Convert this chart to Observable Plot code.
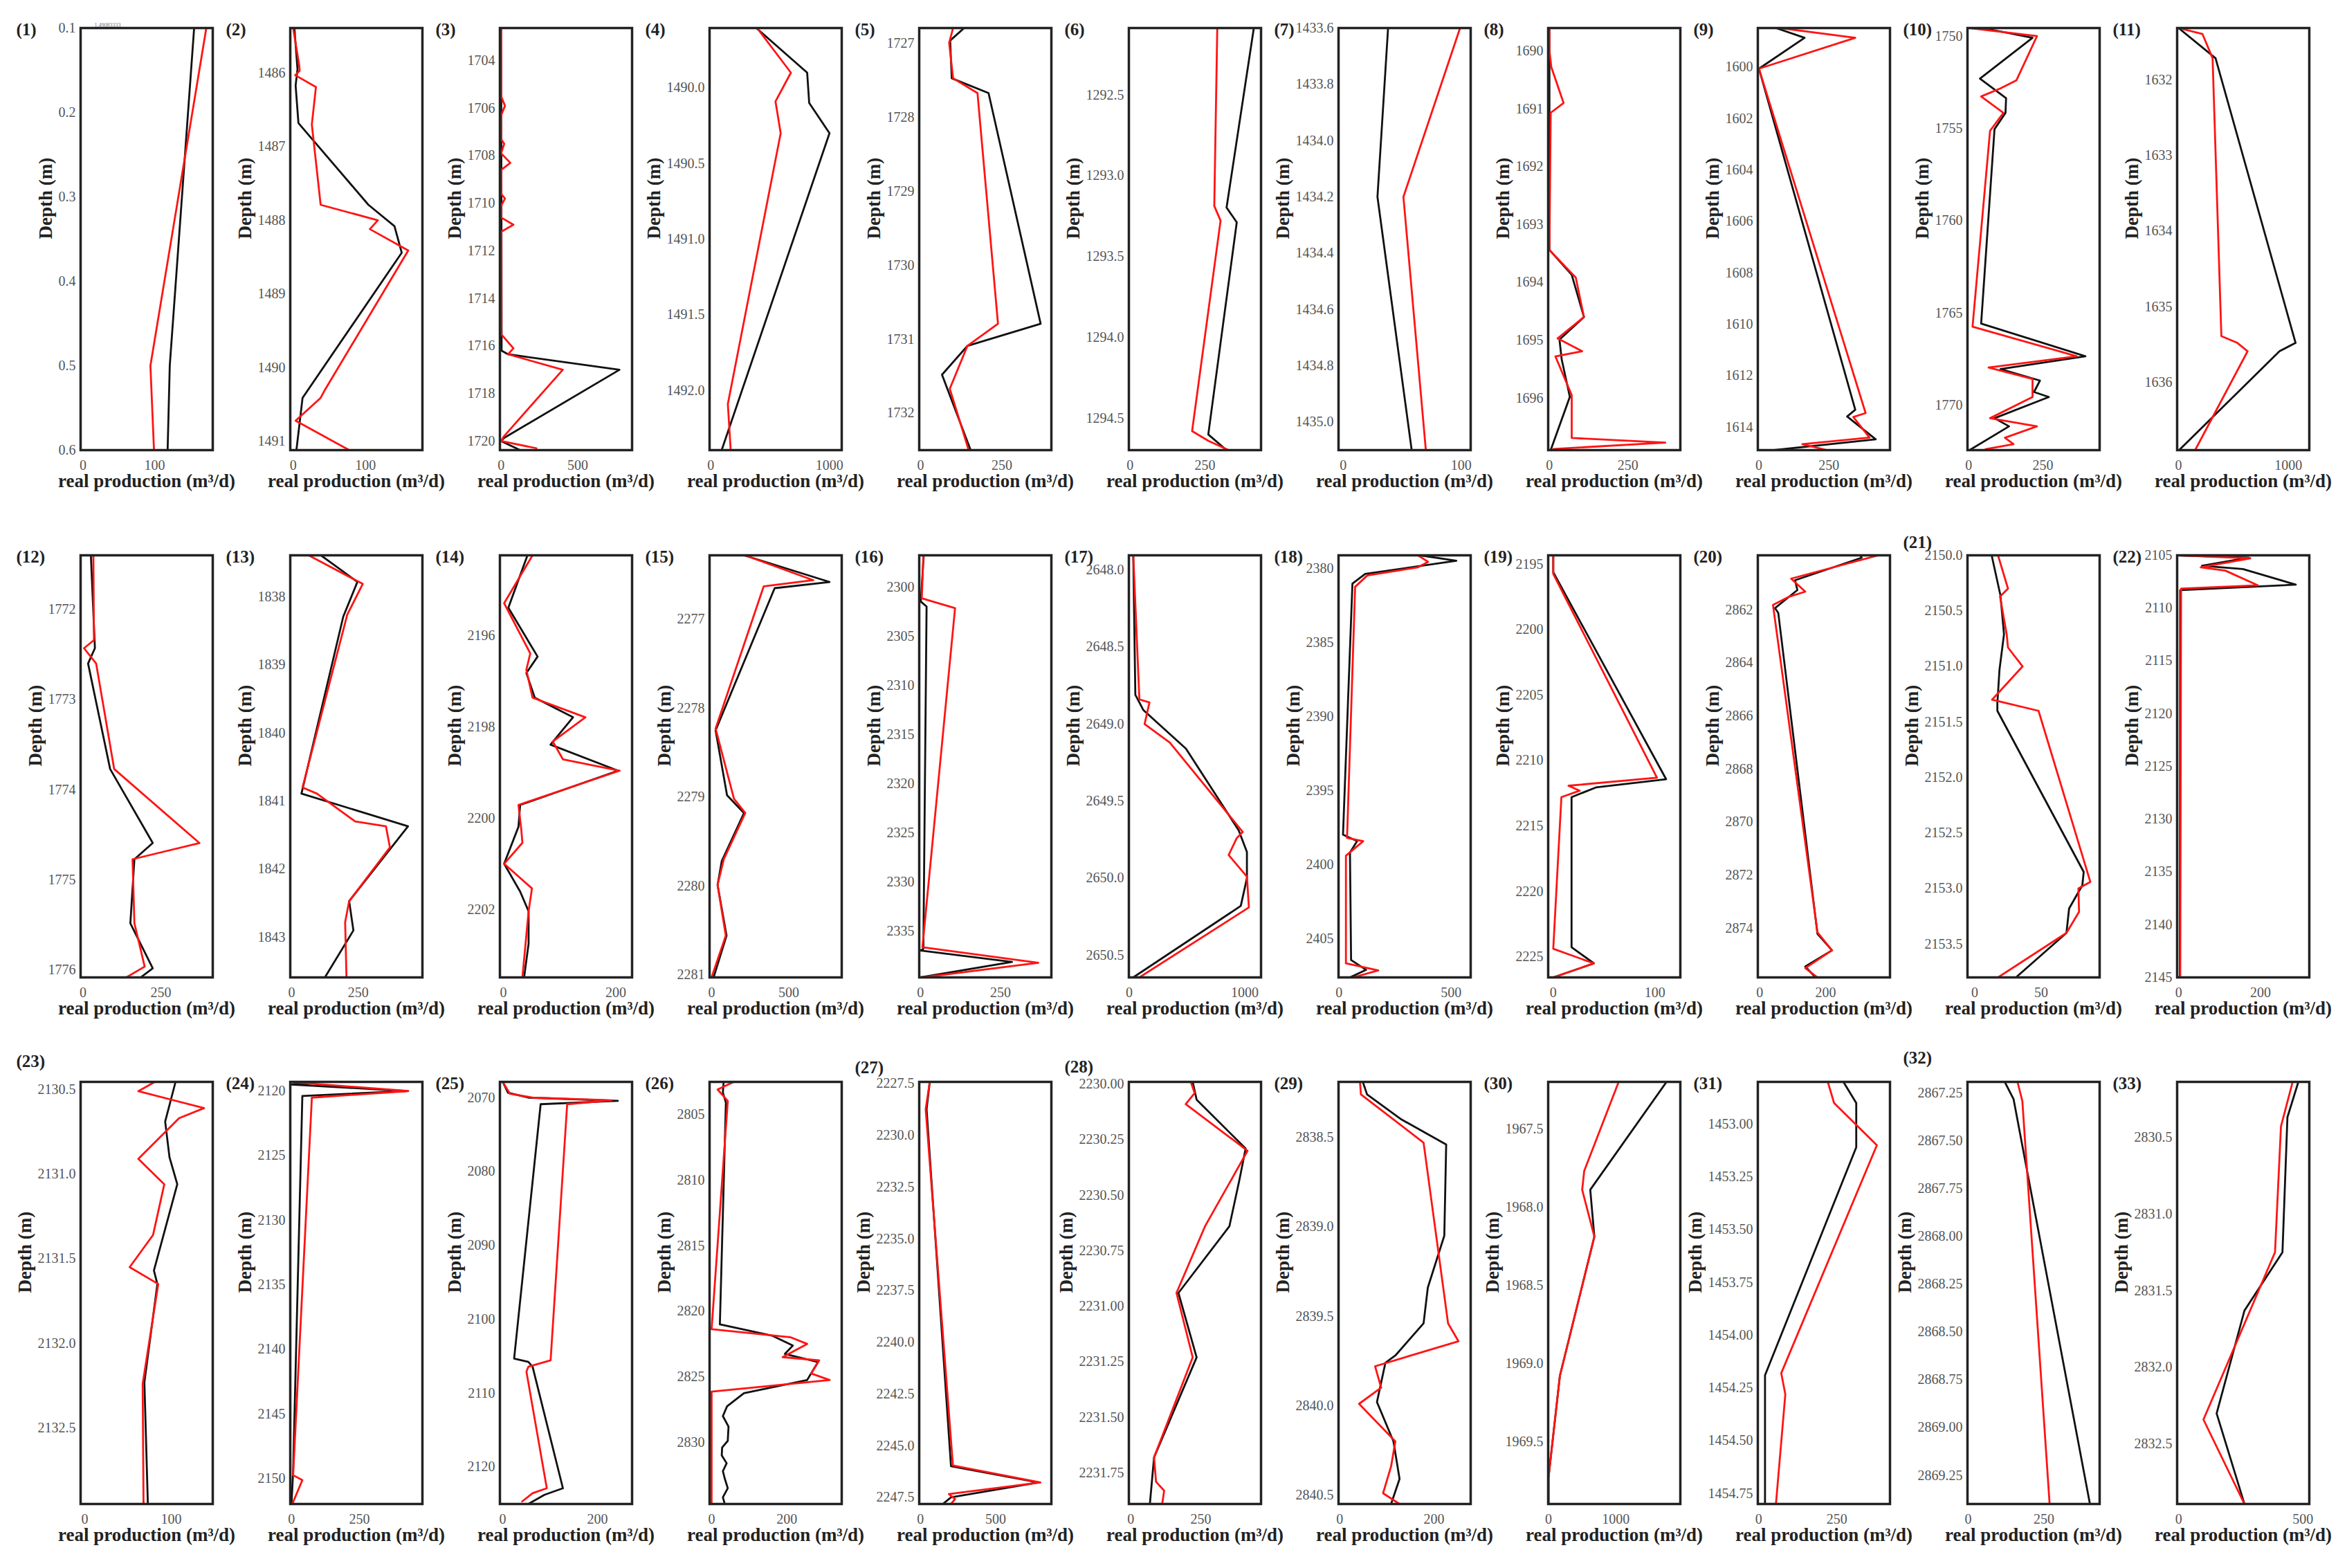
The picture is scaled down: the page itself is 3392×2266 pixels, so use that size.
<!DOCTYPE html>
<html><head><meta charset="utf-8">
<script src="https://cdn.jsdelivr.net/npm/d3@7"></script>
<script src="https://cdn.jsdelivr.net/npm/@observablehq/plot@0.6"></script>
<style>
html,body{margin:0;padding:0;background:#fff;}
#root{position:relative;width:3392px;height:2266px;background:#fff;overflow:hidden;}
#root svg{position:absolute;overflow:visible;}
</style></head><body><div id="root"></div>
<script>
// ---- data: [depth (m), real production (m3/d)] ----
const black1=[[0.1,155],[0.5,121],[0.6,118]];
const red1=[[0.1,172],[0.5,94],[0.6,99]];
const black2=[[1485.39,1.7],[1485.95,6],[1486.17,3.4],[1486.68,7.3],[1487.79,104],[1488.08,140],[1488.44,150],[1490.41,13],[1491.12,4.5]];
const red2=[[1485.39,0],[1485.90,8.4],[1485.97,9],[1486.03,2.8],[1486.19,31.5],[1486.70,25.8],[1487.79,38],[1488.0,117],[1488.12,106],[1488.41,159],[1490.30,44],[1490.41,38],[1490.72,3.4],[1491.12,77.5]];
const black3=[[1702.63,0],[1716.2,3],[1716.35,45],[1717.0,772],[1719.87,18],[1720.0,0],[1720.38,124]];
const red3=[[1702.63,0],[1705.5,0],[1705.9,25],[1706.3,0],[1707.3,0],[1707.5,20],[1707.9,0],[1708.3,60],[1708.6,0],[1709.6,0],[1709.8,25],[1710.1,0],[1710.6,0],[1710.9,80],[1711.2,0],[1715.5,0],[1715.8,40],[1716.1,80],[1716.35,45],[1717.0,402],[1719.8,18],[1720.0,0],[1720.3,230]];
const black4=[[1489.605,384],[1489.90,812],[1490.10,829],[1490.30,1000],[1492.395,92]];
const red4=[[1489.605,390],[1489.90,675],[1490.09,545],[1490.30,589],[1492.09,144],[1492.395,168]];
const black5=[[1726.79,134],[1726.96,91],[1727.47,96],[1727.67,209],[1730.79,369],[1731.09,144],[1731.48,66],[1732.5,154]];
const red5=[[1726.79,100],[1726.99,88],[1727.47,100],[1727.67,175],[1730.79,238],[1731.09,144],[1731.67,90],[1732.5,148]];
const black6=[[1292.086,413],[1293.197,322],[1293.288,356],[1294.601,261],[1294.698,322]];
const red6=[[1292.086,291],[1293.187,281],[1293.278,302],[1294.58,207],[1294.64,261],[1294.698,329]];
const black7=[[1433.6,38],[1434.2,29],[1435.10,58]];
const red7=[[1433.6,99],[1434.2,51],[1435.10,70]];
const black8=[[1689.605,0],[1693.44,0],[1693.87,71],[1694.60,110],[1694.99,32],[1695.33,39],[1695.98,65],[1696.90,4]];
const red8=[[1689.605,0],[1690.0,0],[1690.28,6],[1690.90,45],[1691.07,4],[1693.44,0],[1693.92,84],[1694.60,110],[1694.97,26],[1695.19,104],[1695.28,19],[1695.95,71],[1696.69,71],[1696.77,369],[1696.88,13]];
const black9=[[1598.48,61],[1598.86,163],[1600.06,0],[1613.32,344],[1613.58,315],[1614.47,417],[1614.89,54]];
const red9=[[1598.48,76],[1598.86,344],[1600.06,0],[1613.45,381],[1613.6,337],[1614.4,395],[1614.66,155],[1614.89,243]];
const black10=[[1749.56,47],[1750.09,215],[1752.30,38],[1753.36,126],[1754.16,124],[1755.04,87],[1765.58,42],[1767.35,393],[1768.05,107],[1768.67,240],[1769.29,220],[1769.56,270],[1770.71,87],[1771.15,136],[1772.44,3]];
const red10=[[1749.56,3],[1750.0,230],[1752.39,161],[1752.83,107],[1753.27,42],[1754.16,117],[1755.13,72],[1765.75,13],[1767.35,364],[1767.96,67],[1768.58,215],[1769.56,215],[1770.71,72],[1771.15,230],[1771.77,122],[1772.12,151],[1772.39,57]];
const black11=[[1631.31,0],[1631.71,337],[1635.48,1066],[1635.59,920],[1636.90,5]];
const red11=[[1631.31,0],[1631.39,218],[1631.71,310],[1635.39,390],[1635.48,536],[1635.59,629],[1636.90,151]];
const black12=[[1771.40,25],[1772.43,38],[1772.60,16],[1773.77,87],[1774.59,224],[1774.77,165],[1775.48,152],[1775.98,224],[1776.08,185]];
const red12=[[1771.40,33],[1772.34,35],[1772.43,3],[1772.60,42],[1773.77,100],[1774.59,374],[1774.77,159],[1775.48,165],[1775.96,198],[1776.08,139]];
const black13=[[1837.39,110],[1837.78,247],[1838.29,194],[1840.89,37],[1841.37,437],[1842.47,216],[1842.90,232],[1843.59,125]];
const red13=[[1837.39,64],[1837.81,267],[1838.26,209],[1840.80,41],[1840.89,95],[1841.30,239],[1841.37,354],[1841.68,369],[1842.47,216],[1842.78,201],[1843.59,206]];
const black14=[[2194.24,43],[2195.39,9],[2196.46,61],[2196.82,41],[2197.36,56],[2197.79,124],[2198.39,84],[2198.96,204],[2199.71,30],[2200.19,27],[2201.0,1.5],[2201.61,30],[2202.04,45],[2202.75,45],[2203.49,37]];
const red14=[[2194.24,52],[2195.29,1.5],[2196.39,48],[2196.75,41],[2197.36,52],[2197.79,146],[2198.32,88],[2198.71,106],[2198.96,207],[2199.71,27],[2200.25,32],[2200.54,34],[2201.0,1.5],[2201.54,51],[2202.04,45],[2203.49,34]];
const black15=[[2276.28,210],[2276.58,763],[2276.65,408],[2278.25,26],[2278.98,100],[2279.18,210],[2279.72,66],[2279.99,39],[2280.56,97],[2281.03,13]];
const red15=[[2276.28,216],[2276.56,658],[2276.63,337],[2278.23,26],[2279.02,145],[2279.18,218],[2279.70,79],[2279.99,39],[2280.56,92],[2281.03,0]];
const black16=[[2296.78,10],[2301.49,1],[2301.99,19],[2336.83,9],[2337.0,0],[2338.16,286],[2339.74,0]];
const red16=[[2296.78,9],[2301.16,4],[2302.16,108],[2336.66,6],[2338.26,368],[2339.74,6]];
const black17=[[2647.905,35],[2648.81,53],[2648.91,123],[2649.16,491],[2649.69,947],[2649.83,1018],[2650.0,1018],[2650.18,965],[2650.644,35]];
const red17=[[2647.905,35],[2648.84,88],[2648.86,175],[2649.0,133],[2649.12,351],[2649.70,982],[2649.74,930],[2649.85,860],[2649.99,1018],[2650.19,1035],[2650.644,88]];
const black18=[[2379.12,361],[2379.49,523],[2380.37,117],[2381.03,60],[2397.96,18],[2398.40,81],[2399.16,49],[2406.42,54],[2407.08,121],[2407.59,49]];
const red18=[[2379.12,352],[2379.56,397],[2379.93,352],[2380.48,126],[2381.25,72],[2398.18,36],[2398.40,108],[2399.38,31],[2406.64,31],[2407.12,175],[2407.59,63]];
const black19=[[2194.33,0],[2195.62,0],[2211.43,111],[2212.06,42],[2212.80,18],[2224.26,18],[2225.50,40],[2226.57,0]];
const red19=[[2194.33,0],[2195.75,0],[2211.31,102],[2211.93,15],[2212.31,26],[2212.80,8],[2224.38,0],[2225.50,40],[2226.57,0]];
const black20=[[2859.95,305],[2860.04,309],[2860.89,107],[2861.26,114],[2861.45,95],[2861.94,46],[2862.12,56],[2874.22,175],[2874.84,219],[2875.45,138],[2875.86,169]];
const red20=[[2859.95,360],[2860.83,95],[2861.32,138],[2861.51,89],[2861.82,40],[2874.16,175],[2874.84,219],[2875.51,138],[2875.86,175]];
const black21=[[2150.0,12.7],[2150.36,19.3],[2150.71,22],[2151.03,18.6],[2151.33,17],[2151.40,17],[2152.85,82],[2152.97,81],[2153.18,71],[2153.40,69],[2153.80,31]];
const red21=[[2150.0,17.5],[2150.30,25],[2150.37,19],[2150.71,24],[2150.83,25],[2151.0,36],[2151.30,13],[2151.40,48],[2152.94,87],[2153.0,78],[2153.21,78.5],[2153.40,69],[2153.80,17.5]];
const black22=[[2105,0],[2105.22,171],[2105.99,57],[2106.30,157],[2107.78,286],[2108.30,4],[2145,3]];
const red22=[[2105,0],[2105.28,175],[2106.14,54],[2106.45,114],[2107.84,193],[2108.15,6],[2145,4]];
const black23=[[2130.455,105],[2130.69,93],[2130.90,98],[2131.06,107],[2131.57,80],[2131.65,84],[2132.23,69],[2132.95,73]];
const red23=[[2130.455,81],[2130.51,62],[2130.61,138],[2130.67,109],[2130.91,62],[2131.06,92],[2131.36,79],[2131.55,52],[2131.65,85],[2132.24,67],[2132.95,68]];
const black24=[[2119.29,0],[2119.39,78],[2119.49,0],[2120.0,422],[2120.38,40],[2149.49,6],[2151.98,0]];
const red24=[[2119.29,0],[2119.44,85],[2120.0,430],[2120.51,75],[2149.75,6],[2150.13,40],[2151.98,3]];
const black25=[[2067.87,0],[2069.33,11],[2070.0,54],[2070.44,243],[2070.89,80],[2105.33,24],[2105.78,54],[2106.44,63],[2122.89,127],[2123.78,88],[2125.02,54]];
const red25=[[2067.87,0],[2069.47,15],[2070.0,63],[2070.36,230],[2070.89,136],[2105.56,101],[2106.44,54],[2107.11,50],[2122.89,93],[2123.56,63],[2124.67,41]];
const black26=[[2802.49,32],[2803.32,30],[2804.07,38],[2821.0,22],[2821.87,162],[2822.62,216],[2823.25,195],[2823.87,283],[2825.25,254],[2826.25,86],[2827.26,41],[2828.0,30],[2828.8,45],[2829.89,43],[2830.4,28],[2831.0,27],[2831.6,40],[2832.2,30],[2832.77,35],[2833.5,43],[2834.2,30],[2834.71,35]];
const red26=[[2802.49,59],[2803.07,16],[2803.95,43],[2821.37,0],[2821.99,211],[2822.49,254],[2823.50,189],[2823.75,286],[2824.75,265],[2825.25,314],[2826.13,0],[2834.71,0]];
const black27=[[2227.42,62],[2228.74,41],[2245.99,203],[2246.78,784],[2247.50,203],[2247.82,149]];
const red27=[[2227.42,62],[2228.74,35],[2245.96,216],[2246.78,797],[2247.34,189],[2247.58,230],[2247.82,203]];
const black28=[[2229.99,221],[2230.07,235],[2230.29,410],[2230.43,388],[2230.64,352],[2230.94,170],[2231.23,235],[2231.68,83],[2231.89,68]];
const red28=[[2229.99,214],[2230.04,228],[2230.09,196],[2230.30,417],[2230.64,265],[2230.94,163],[2231.23,221],[2231.68,83],[2231.79,90],[2231.83,119],[2231.89,112]];
const black29=[[2838.19,49],[2838.26,58],[2838.40,131],[2838.54,226],[2839.05,222],[2839.34,187],[2839.54,178],[2839.72,118],[2839.76,97],[2839.98,79],[2840.20,114],[2840.41,127],[2840.55,109]];
const red29=[[2838.19,43],[2838.26,45],[2838.53,178],[2839.54,230],[2839.64,252],[2839.78,75],[2839.90,88],[2839.99,41],[2840.20,118],[2840.34,109],[2840.49,92],[2840.55,127]];
const black30=[[1967.20,1753],[1967.89,620],[1968.19,681],[1969.08,169],[1969.73,0],[1969.90,0]];
const red30=[[1967.20,1042],[1967.77,530],[1967.89,500],[1968.19,681],[1969.08,169],[1969.73,0],[1969.90,0]];
const black31=[[1452.80,271],[1452.90,312],[1453.11,312],[1454.19,20],[1454.80,20]];
const red31=[[1452.80,221],[1452.90,241],[1453.10,378],[1454.18,72],[1454.28,85],[1454.80,55]];
const black32=[[2867.19,121],[2867.28,150],[2869.40,402]];
const red32=[[2867.19,163],[2867.29,179],[2869.40,269]];
const black33=[[2830.14,482],[2830.37,438],[2831.25,418],[2831.63,265],[2832.30,153],[2832.89,265]];
const red33=[[2830.14,459],[2830.43,412],[2831.25,388],[2832.34,100],[2832.89,265]];

// ---- axes: depth domain [top, bottom], production domain, tick labels ----
const yDomains=[[0.1,0.6],[1485.39,1491.12],[1702.63,1720.38],[1489.605,1492.395],[1726.79,1732.5],[1292.086,1294.698],[1433.6,1435.10],[1689.605,1696.90],[1598.48,1614.89],[1749.56,1772.44],[1631.31,1636.90],
[1771.40,1776.08],[1837.39,1843.59],[2194.24,2203.49],[2276.28,2281.03],[2296.78,2339.74],[2647.905,2650.644],[2379.12,2407.59],[2194.33,2226.57],[2859.95,2875.86],[2150.0,2153.80],[2105,2145],
[2130.455,2132.95],[2119.29,2151.98],[2067.87,2125.02],[2802.49,2834.71],[2227.42,2247.82],[2229.99,2231.89],[2838.19,2840.55],[1967.20,1969.90],[1452.80,1454.80],[2867.19,2869.40],[2830.14,2832.89]];
const xDomains=[[-3.4,181],[-4,178.6],[-8,854],[-10,1103],[-4,402],[-4,437],[-4,108],[-4,417],[-4,468],[-4,441],[-13,1191],
[-8,417],[-5,491],[-6,229],[-13,842],[-4,409],[-3,1140],[-2,587],[-5,125],[-6,395],[-5.5,94],[-3.6,319],
[-4.7,148],[-4.5,482],[-6,273],[-5.4,346],[-8,870],[-7,465],[-2.6,278],[-5,1958],[-3,420],[-2,434],[-6,526]];
const yTicks=[[0.1,0.2,0.3,0.4,0.5,0.6],[1486,1487,1488,1489,1490,1491],[1704,1706,1708,1710,1712,1714,1716,1718,1720],[1490.0,1490.5,1491.0,1491.5,1492.0],[1727,1728,1729,1730,1731,1732],[1292.5,1293.0,1293.5,1294.0,1294.5],[1433.6,1433.8,1434.0,1434.2,1434.4,1434.6,1434.8,1435.0],[1690,1691,1692,1693,1694,1695,1696],[1600,1602,1604,1606,1608,1610,1612,1614],[1750,1755,1760,1765,1770],[1632,1633,1634,1635,1636],
[1772,1773,1774,1775,1776],[1838,1839,1840,1841,1842,1843],[2196,2198,2200,2202],[2277,2278,2279,2280,2281],[2300,2305,2310,2315,2320,2325,2330,2335],[2648.0,2648.5,2649.0,2649.5,2650.0,2650.5],[2380,2385,2390,2395,2400,2405],[2195,2200,2205,2210,2215,2220,2225],[2862,2864,2866,2868,2870,2872,2874],[2150.0,2150.5,2151.0,2151.5,2152.0,2152.5,2153.0,2153.5],[2105,2110,2115,2120,2125,2130,2135,2140,2145],
[2130.5,2131.0,2131.5,2132.0,2132.5],[2120,2125,2130,2135,2140,2145,2150],[2070,2080,2090,2100,2110,2120],[2805,2810,2815,2820,2825,2830],[2227.5,2230.0,2232.5,2235.0,2237.5,2240.0,2242.5,2245.0,2247.5],[2230.00,2230.25,2230.50,2230.75,2231.00,2231.25,2231.50,2231.75],[2838.5,2839.0,2839.5,2840.0,2840.5],[1967.5,1968.0,1968.5,1969.0,1969.5],[1453.00,1453.25,1453.50,1453.75,1454.00,1454.25,1454.50,1454.75],[2867.25,2867.50,2867.75,2868.00,2868.25,2868.50,2868.75,2869.00,2869.25],[2830.5,2831.0,2831.5,2832.0,2832.5]];
const yDecimals=[1,0,0,1,0,1,1,0,0,0,0, 0,0,0,0,0,1,0,0,0,1,0, 1,0,0,0,1,2,1,1,2,2,1];
const xTicks=[[0,100],[0,100],[0,500],[0,1000],[0,250],[0,250],[0,100],[0,250],[0,250],[0,250],[0,1000],
[0,250],[0,250],[0,200],[0,500],[0,250],[0,1000],[0,500],[0,100],[0,200],[0,50],[0,200],
[0,100],[0,250],[0,200],[0,200],[0,500],[0,250],[0,200],[0,1000],[0,250],[0,250],[0,500]];
const panelLabels=d3.range(1,34).map(n=>`(${n})`);
const blacks=[black1,black2,black3,black4,black5,black6,black7,black8,black9,black10,black11,black12,black13,black14,black15,black16,black17,black18,black19,black20,black21,black22,black23,black24,black25,black26,black27,black28,black29,black30,black31,black32,black33];
const reds=[red1,red2,red3,red4,red5,red6,red7,red8,red9,red10,red11,red12,red13,red14,red15,red16,red17,red18,red19,red20,red21,red22,red23,red24,red25,red26,red27,red28,red29,red30,red31,red32,red33];

// ---- layout ----
const root=document.getElementById("root");
const colStep=303, frameLeft0=116, frameW=191, frameH=610;
const rowTops=[40,802,1563];
const mL=105, mR=6, mT=34, mB=80;
const font="'Liberation Serif','Times New Roman',serif";
const tickFont=20, labelFont=27, panelFont=25, tickPad=7, panelDx=-93;
const ctx=document.createElement("canvas").getContext("2d");
for(let i=0;i<33;i++){
  const r=Math.floor(i/11), c=i%11;
  const fl=frameLeft0+c*colStep, ft=rowTops[r];
  const b=blacks[i].map(([d,v])=>({d,v}));
  const rd=reds[i].map(([d,v])=>({d,v}));
  const dec=yDecimals[i];
  const fmt=d=>d.toFixed(dec);
  ctx.font=`${tickFont}px 'Liberation Serif'`;
  const w=d3.max(yTicks[i],t=>ctx.measureText(fmt(t)).width);
  const topW=ctx.measureText(fmt(yTicks[i][0])).width;
  ctx.font=`bold ${panelFont}px 'Liberation Serif'`;
  const lw=ctx.measureText(panelLabels[i]).width;
  const [yt,yb]=yDomains[i];
  const tickY=(yTicks[i][0]-yt)/(yb-yt)*frameH;
  const clash=(panelDx+lw > -(tickPad+topW)) && tickY<20;
  const panelDy=clash ? -(28+tickY) : -7;
  const marks=[
    Plot.line(b,{x:"v",y:"d",stroke:"#111",strokeWidth:2.8,clip:true}),
    Plot.line(rd,{x:"v",y:"d",stroke:"#ff1414",strokeWidth:2.8,clip:true}),
    Plot.frame({stroke:"#222",strokeWidth:3.5}),
    Plot.axisY(yTicks[i],{tickSize:0,tickPadding:tickPad,fontSize:tickFont,fill:"#555",tickFormat:fmt,label:null}),
    Plot.axisX(xTicks[i],{tickSize:0,tickPadding:14,fontSize:tickFont,fill:"#555",tickFormat:d=>String(d),label:null}),
    Plot.text(["Depth (m)"],{text:d=>d,frameAnchor:"left",dx:-(w+tickPad+18),rotate:-90,fontWeight:"bold",fontSize:labelFont,fill:"#222"}),
    Plot.text(["real production (m³/d)"],{text:d=>d,frameAnchor:"bottom",dy:53,fontWeight:"bold",fontSize:labelFont,fill:"#222"}),
    Plot.text([panelLabels[i]],{text:d=>d,frameAnchor:"top-left",dx:panelDx,dy:panelDy,textAnchor:"start",fontWeight:"bold",fontSize:panelFont,fill:"#222"})
  ];
  if(i===0) marks.push(Plot.text(["1.49083333"],{text:d=>d,frameAnchor:"top-left",dx:20,dy:-7,textAnchor:"start",fontSize:8,fill:"#777"}));
  const svg=Plot.plot({
    width:mL+frameW+mR, height:mT+frameH+mB,
    marginLeft:mL, marginRight:mR, marginTop:mT, marginBottom:mB,
    style:{fontFamily:font,background:"transparent",overflow:"visible"},
    x:{domain:xDomains[i]},
    y:{domain:yDomains[i],reverse:true},
    marks
  });
  svg.style.left=(fl-mL)+"px";
  svg.style.top=(ft-mT)+"px";
  root.appendChild(svg);
}
</script></body></html>
